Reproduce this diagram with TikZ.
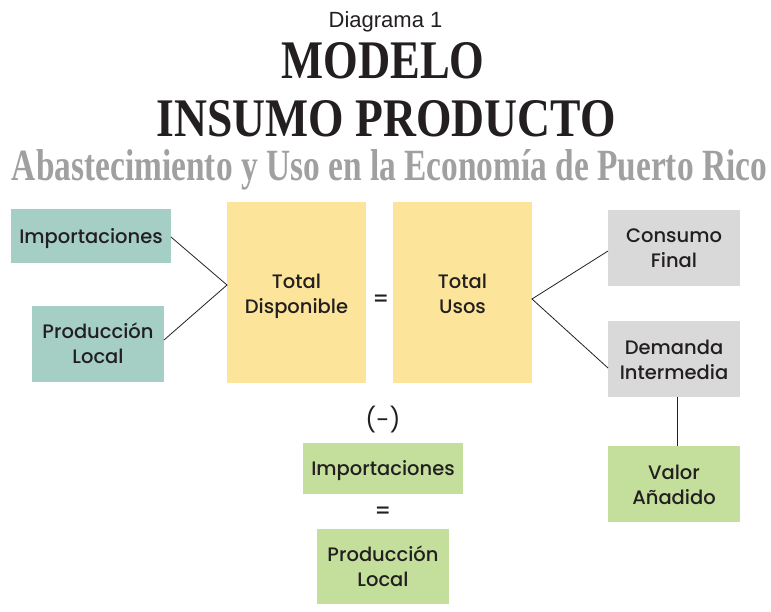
\documentclass[tikz,border=0pt]{standalone}
\usepackage{fontspec}
\setmainfont{Liberation Serif}
\newfontfamily\boxfont{Poppins}[BoldFont={Poppins Medium}]
\newfontfamily\headfont{Liberation Sans}
\newfontfamily\titlefont[FakeStretch=0.9]{Liberation Serif}
\definecolor{tealbox}{HTML}{A5CEC5}
\definecolor{yellowbox}{HTML}{FCE59A}
\definecolor{graybox}{HTML}{D9D9D9}
\definecolor{greenbox}{HTML}{C3DF9B}
\definecolor{subgray}{HTML}{A0A0A0}
\definecolor{ink}{HTML}{231F20}
\tikzset{
  bx/.style={inner sep=0pt, text=ink, font=\boxfont\bfseries\fontsize{19.5}{25}\selectfont, align=center},
  conn/.style={draw=ink, line width=0.8pt},
}
\begin{document}
\begin{tikzpicture}[x=1pt,y=-1pt]
\useasboundingbox (0,0) rectangle (771,612);
% titles
\node[text=ink, font=\headfont\fontsize{22}{24}\selectfont, anchor=base] (t0) at (385.5,28) {Diagrama 1};
\node[text=ink, inner sep=0pt, anchor=base] (t1) at (383,79) {\resizebox{203pt}{36pt}{\bfseries\titlefont MODELO}};
\node[text=ink, inner sep=0pt, anchor=base] (t2) at (386,137) {\resizebox{459pt}{36pt}{\bfseries\titlefont INSUMO PRODUCTO}};
\node[text=subgray, inner sep=0pt, anchor=base] (t3) at (389.5,181) {\resizebox{755pt}{31pt}{\bfseries\titlefont Abastecimiento y Uso en la Econom\'ia de Puerto Rico}};
% boxes
\fill[tealbox] (11,209) rectangle (171,263);
\node[bx] (imp) at (91,238.5) {Importaciones};
\fill[tealbox] (32,306) rectangle (164,382);
\node[bx] (prod) at (98,343) {Producci\'on\\Local};
\fill[yellowbox] (227,202) rectangle (366,383);
\node[bx] (td) at (296.5,296.5) {Total\\Disponible};
\node[bx, font=\boxfont\bfseries\fontsize{22}{22}\selectfont] (eq1) at (381,301) {=};
\fill[yellowbox] (393,202) rectangle (532,383);
\node[bx] (tu) at (462.5,293.5) {Total\\Usos};
\fill[graybox] (608,210) rectangle (740,286);
\node[bx] (cf) at (674,248.5) {Consumo\\Final};
\fill[graybox] (608,321) rectangle (740,397);
\node[bx] (di) at (674,359.5) {Demanda\\Intermedia};
\fill[greenbox] (608,446) rectangle (740,522);
\node[bx] (va) at (674,484.5) {Valor\\A\~nadido};
\node[bx, font=\boxfont\fontsize{24}{26}\selectfont] (minus) at (383,420) {(-)};
\fill[greenbox] (303,443) rectangle (463,494);
\node[bx] (imp2) at (383,470.5) {Importaciones};
\node[bx, font=\boxfont\bfseries\fontsize{22}{22}\selectfont] (eq2) at (383,513) {=};
\fill[greenbox] (317,529) rectangle (449,604);
\node[bx] (prod2) at (383,566.5) {Producci\'on\\Local};
% connector anchor points
\coordinate (impR) at (171,237);
\coordinate (prodR) at (164,340);
\coordinate (tdL) at (227,285);
\coordinate (tuR) at (532,299);
\coordinate (cfL) at (608,251);
\coordinate (diL) at (608,368);
\coordinate (diB) at (677,397);
\coordinate (vaT) at (677,446);
\draw[conn] (impR) -- (tdL) -- (prodR);
\draw[conn] (cfL) -- (tuR) -- (diL);
\draw[conn] (diB) -- (vaT);
\end{tikzpicture}
\end{document}
